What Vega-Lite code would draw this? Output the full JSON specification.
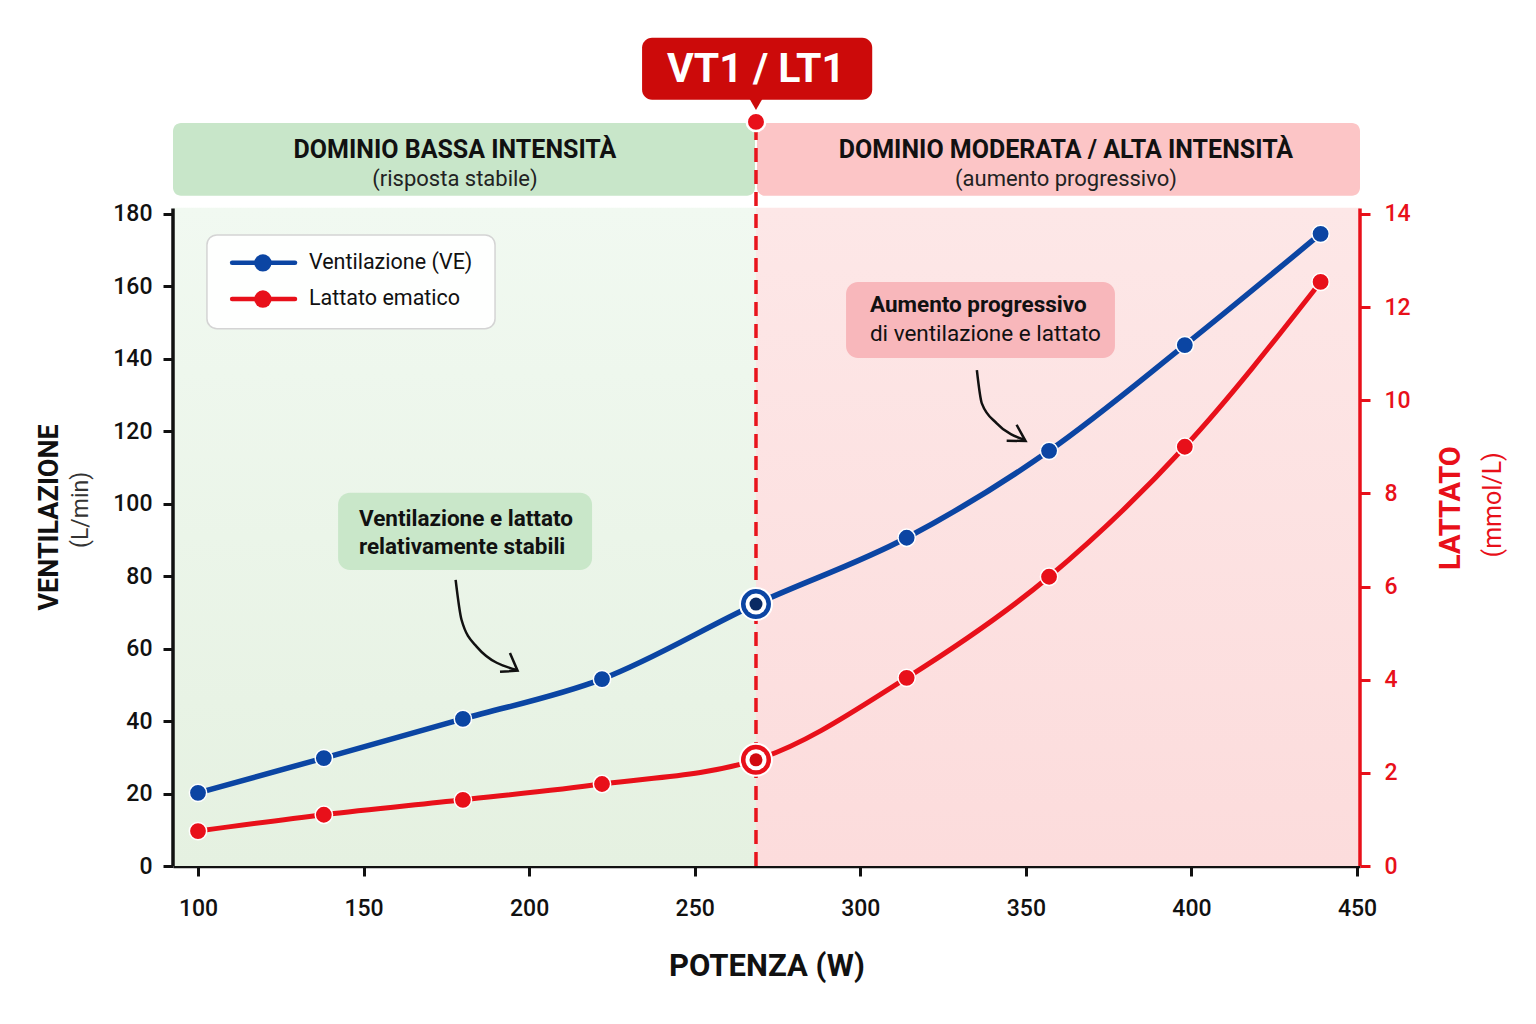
{
  "$schema": "https://vega.github.io/schema/vega-lite/v6.json",
  "width": 1187,
  "height": 826,
  "autosize": "none",
  "padding": {"left": 173, "top": 40, "right": 176, "bottom": 158},
  "background": "white",
  "config": {"font": "Roboto", "view": {"stroke": null}},
  "datasets": {
    "pts": [
      {"W": 100, "V": 20.2, "LA": 0.75},
      {"W": 138, "V": 29.8, "LA": 1.1},
      {"W": 180, "V": 40.6, "LA": 1.42},
      {"W": 222, "V": 51.6, "LA": 1.76},
      {"W": 268.5, "V": 72.3, "LA": 2.28},
      {"W": 314, "V": 90.6, "LA": 4.04},
      {"W": 357, "V": 114.6, "LA": 6.21},
      {"W": 398, "V": 143.8, "LA": 9.0},
      {"W": 439, "V": 174.5, "LA": 12.54}
    ]
  },
  "encoding": {
    "x": {
      "field": "W", "type": "quantitative",
      "scale": {"domain": [92.45, 450.9], "nice": false, "zero": false},
      "axis": {
        "values": [100, 150, 200, 250, 300, 350, 400, 450],
        "domain": true, "domainColor": "#111", "domainWidth": 3.5,
        "ticks": true, "tickSize": 10, "tickWidth": 3, "tickColor": "#111",
        "grid": false,
        "labelFontSize": 23, "labelFontWeight": 500, "labelColor": "#111", "labelPadding": 21,
        "title": "POTENZA (W)", "titleFontSize": 31, "titleFontWeight": "bold", "titleColor": "#111", "titlePadding": 31
      }
    }
  },
  "layer": [
    {
      "encoding": {
        "y": {
          "field": "V", "type": "quantitative",
          "scale": {"domain": [0, 228], "nice": false},
          "axis": {
            "values": [0, 20, 40, 60, 80, 100, 120, 140, 160, 180],
            "domain": false, "grid": false,
            "ticks": true, "tickSize": 10, "tickWidth": 3, "tickColor": "#111",
            "labelFontSize": 23, "labelFontWeight": 500, "labelColor": "#111", "labelPadding": 11,
            "title": null
          }
        }
      },
      "resolve": {"scale": {"color": "independent"}},
      "layer": [
        {
          "data": {"values": [{"W": 92.45, "W2": 268.5, "V": 0, "V2": 181.7}]},
          "mark": {"type": "rect", "color": {"gradient": "linear", "x1": 0, "y1": 0, "x2": 0, "y2": 1, "stops": [{"offset": 0, "color": "#f1f9f1"}, {"offset": 1, "color": "#e5f1e1"}]}},
          "encoding": {"x2": {"field": "W2"}, "y2": {"field": "V2"}}
        },
        {
          "data": {"values": [{"W": 268.5, "W2": 450.9, "V": 0, "V2": 181.7}]},
          "mark": {"type": "rect", "color": {"gradient": "linear", "x1": 0, "y1": 0, "x2": 0, "y2": 1, "stops": [{"offset": 0, "color": "#fde7e7"}, {"offset": 1, "color": "#fcdcdc"}]}},
          "encoding": {"x2": {"field": "W2"}, "y2": {"field": "V2"}}
        },
        {
          "data": {"values": [
            {"W": 92.45, "W2": 268.2, "V": 185, "V2": 205.1, "zona": "bassa"},
            {"W": 268.8, "W2": 450.9, "V": 185, "V2": 205.1, "zona": "alta"}
          ]},
          "mark": {"type": "rect", "cornerRadius": 8},
          "encoding": {
            "x2": {"field": "W2"}, "y2": {"field": "V2"},
            "color": {"field": "zona", "type": "nominal", "scale": {"domain": ["bassa", "alta"], "range": ["#c8e6c9", "#fcc5c6"]}, "legend": null}
          }
        },
        {
          "data": {"values": [
            {"W": 177.6, "V": 197.7, "testo": "DOMINIO BASSA INTENSITÀ"},
            {"W": 362.1, "V": 197.7, "testo": "DOMINIO MODERATA / ALTA INTENSITÀ"}
          ]},
          "mark": {"type": "text", "fontSize": 25, "fontWeight": "bold", "color": "#111", "baseline": "middle"},
          "encoding": {"text": {"field": "testo"}}
        },
        {
          "data": {"values": [
            {"W": 177.6, "V": 189.7, "testo": "(risposta stabile)"},
            {"W": 362.1, "V": 189.7, "testo": "(aumento progressivo)"}
          ]},
          "mark": {"type": "text", "fontSize": 22, "color": "#222", "baseline": "middle"},
          "encoding": {"text": {"field": "testo"}}
        },
        {
          "data": {"values": [
            {"W": 142.3, "W2": 219.0, "V": 81.7, "V2": 103.0, "zona": "bassa"},
            {"W": 295.7, "W2": 376.9, "V": 140.2, "V2": 161.2, "zona": "alta"}
          ]},
          "mark": {"type": "rect", "cornerRadius": 12},
          "encoding": {
            "x2": {"field": "W2"}, "y2": {"field": "V2"},
            "color": {"field": "zona", "type": "nominal", "scale": {"domain": ["bassa", "alta"], "range": ["#c9e7c9", "#f8b7bb"]}, "legend": null}
          }
        },
        {
          "data": {"values": [
            {"W": 148.6, "V": 95.8, "testo": "Ventilazione e lattato"},
            {"W": 148.6, "V": 88.1, "testo": "relativamente stabili"},
            {"W": 302.9, "V": 154.9, "testo": "Aumento progressivo"}
          ]},
          "mark": {"type": "text", "fontSize": 22.5, "fontWeight": "bold", "color": "#111", "align": "left", "baseline": "middle"},
          "encoding": {"text": {"field": "testo"}}
        },
        {
          "data": {"values": [{"W": 302.9, "V": 146.9, "testo": "di ventilazione e lattato"}]},
          "mark": {"type": "text", "fontSize": 22.5, "color": "#111", "align": "left", "baseline": "middle"},
          "encoding": {"text": {"field": "testo"}}
        },
        {
          "data": {"values": [
            {"f": 1, "k": 1, "W": 177.8, "V": 79.0},
            {"f": 1, "k": 2, "W": 179.6, "V": 67.9},
            {"f": 1, "k": 3, "W": 184.2, "V": 60.5},
            {"f": 1, "k": 4, "W": 196.2, "V": 54.1},
            {"f": 2, "k": 1, "W": 335.2, "V": 136.9},
            {"f": 2, "k": 2, "W": 336.7, "V": 127.7},
            {"f": 2, "k": 3, "W": 341.2, "V": 122.2},
            {"f": 2, "k": 4, "W": 349.7, "V": 117.6}
          ]},
          "mark": {"type": "line", "interpolate": "monotone", "strokeWidth": 2.5, "color": "#111"},
          "encoding": {"detail": {"field": "f"}, "order": {"field": "k"}}
        },
        {
          "data": {"values": [
            {"f": 1, "k": 1, "W": 194.2, "V": 58.8},
            {"f": 1, "k": 2, "W": 196.5, "V": 53.9},
            {"f": 1, "k": 3, "W": 191.2, "V": 53.6},
            {"f": 2, "k": 1, "W": 347.2, "V": 121.8},
            {"f": 2, "k": 2, "W": 349.9, "V": 117.3},
            {"f": 2, "k": 3, "W": 344.2, "V": 117.4}
          ]},
          "mark": {"type": "line", "strokeWidth": 2.5, "color": "#111", "strokeJoin": "miter"},
          "encoding": {"detail": {"field": "f"}, "order": {"field": "k"}}
        },
        {
          "data": {"values": [{"W": 102.7, "W2": 189.7, "V": 148.3, "V2": 174.2}]},
          "mark": {"type": "rect", "cornerRadius": 10, "fill": "white", "fillOpacity": 0.92, "stroke": "#d4d4d4", "strokeWidth": 1.5},
          "encoding": {"x2": {"field": "W2"}, "y2": {"field": "V2"}}
        },
        {
          "data": {"values": [
            {"W": 110.3, "W2": 129.3, "V": 166.5, "serie": "Ventilazione (VE)"},
            {"W": 110.3, "W2": 129.3, "V": 156.5, "serie": "Lattato ematico"}
          ]},
          "mark": {"type": "rule", "strokeWidth": 4.5, "strokeCap": "round"},
          "encoding": {
            "x2": {"field": "W2"},
            "color": {"field": "serie", "type": "nominal", "scale": {"domain": ["Ventilazione (VE)", "Lattato ematico"], "range": ["#0b45a3", "#e8101a"]}, "legend": null}
          }
        },
        {
          "data": {"values": [
            {"W": 119.6, "V": 166.5, "serie": "Ventilazione (VE)"},
            {"W": 119.6, "V": 156.5, "serie": "Lattato ematico"}
          ]},
          "mark": {"type": "circle", "size": 300, "opacity": 1},
          "encoding": {
            "color": {"field": "serie", "type": "nominal", "scale": {"domain": ["Ventilazione (VE)", "Lattato ematico"], "range": ["#0b45a3", "#e8101a"]}, "legend": null}
          }
        },
        {
          "data": {"values": [
            {"W": 133.5, "V": 166.5, "serie": "Ventilazione (VE)"},
            {"W": 133.5, "V": 156.5, "serie": "Lattato ematico"}
          ]},
          "mark": {"type": "text", "fontSize": 21.5, "color": "#111", "align": "left", "baseline": "middle"},
          "encoding": {"text": {"field": "serie"}}
        },
        {
          "data": {"values": [{"W": 55.2, "V": 96.2, "testo": "VENTILAZIONE"}]},
          "mark": {"type": "text", "fontSize": 27, "fontWeight": "bold", "color": "#111", "angle": 270, "baseline": "middle"},
          "encoding": {"text": {"field": "testo"}}
        },
        {
          "data": {"values": [{"W": 64.7, "V": 98.3, "testo": "(L/min)"}]},
          "mark": {"type": "text", "fontSize": 23, "color": "#333", "angle": 270, "baseline": "middle"},
          "encoding": {"text": {"field": "testo"}}
        },
        {
          "data": {"values": [{"W": 478.4, "V": 98.8, "testo": "LATTATO"}]},
          "mark": {"type": "text", "fontSize": 29, "fontWeight": "bold", "color": "#e8101a", "angle": 270, "baseline": "middle"},
          "encoding": {"text": {"field": "testo"}}
        },
        {
          "data": {"values": [{"W": 491.1, "V": 99.7, "testo": "(mmol/L)"}]},
          "mark": {"type": "text", "fontSize": 25, "color": "#e8101a", "angle": 270, "baseline": "middle"},
          "encoding": {"text": {"field": "testo"}}
        },
        {
          "data": {"values": [{"W": 234.1, "W2": 303.6, "V": 211.5, "V2": 228.6}]},
          "mark": {"type": "rect", "cornerRadius": 10, "color": "#cc0a0a"},
          "encoding": {"x2": {"field": "W2"}, "y2": {"field": "V2"}}
        },
        {
          "data": {"values": [{"W": 268.5, "V": 210.2}]},
          "mark": {"type": "point", "shape": "triangle-down", "filled": true, "size": 160, "color": "#cc0a0a", "opacity": 1},
          "encoding": {}
        },
        {
          "data": {"values": [{"W": 268.5, "V": 219.8, "testo": "VT1 / LT1"}]},
          "mark": {"type": "text", "fontSize": 41, "fontWeight": "bold", "color": "white", "baseline": "middle"},
          "encoding": {"text": {"field": "testo"}}
        },
        {
          "data": {"values": [{"W": 268.5, "V": 0, "V2": 205.4}]},
          "mark": {"type": "rule", "strokeWidth": 3.5, "strokeDash": [14, 8], "color": "#e8141c"},
          "encoding": {"y2": {"field": "V2"}}
        },
        {
          "data": {"values": [{"W": 268.5, "V": 205.4}]},
          "mark": {"type": "circle", "size": 340, "color": "#e8101a", "opacity": 1, "stroke": "white", "strokeWidth": 2.5},
          "encoding": {}
        },
        {
          "data": {"values": [{"W": 92.45, "V": 0, "V2": 181.5}]},
          "mark": {"type": "rule", "strokeWidth": 3.5, "color": "#111"},
          "encoding": {"y2": {"field": "V2"}}
        },
        {
          "data": {"values": [{"W": 450.9, "V": 0, "V2": 181.5}]},
          "mark": {"type": "rule", "strokeWidth": 3.5, "color": "#e8101a"},
          "encoding": {"y2": {"field": "V2"}}
        },
        {
          "data": {"name": "pts"},
          "mark": {"type": "line", "interpolate": "monotone", "strokeWidth": 5.5, "color": "#0b45a3"},
          "encoding": {}
        },
        {
          "data": {"name": "pts"},
          "mark": {"type": "circle", "size": 300, "color": "#0b45a3", "opacity": 1, "stroke": "white", "strokeWidth": 1.5},
          "encoding": {}
        },
        {
          "data": {"values": [{"W": 268.5, "V": 72.3}]},
          "mark": {"type": "circle", "size": 1024, "color": "#0b45a3", "opacity": 1, "stroke": "white", "strokeWidth": 2},
          "encoding": {}
        },
        {
          "data": {"values": [{"W": 268.5, "V": 72.3}]},
          "mark": {"type": "circle", "size": 441, "color": "white", "opacity": 1},
          "encoding": {}
        },
        {
          "data": {"values": [{"W": 268.5, "V": 72.3}]},
          "mark": {"type": "circle", "size": 169, "color": "#0a2a63", "opacity": 1},
          "encoding": {}
        }
      ]
    },
    {
      "encoding": {
        "y": {
          "field": "LA", "type": "quantitative",
          "scale": {"domain": [0, 17.733], "nice": false},
          "axis": {
            "orient": "right",
            "values": [0, 2, 4, 6, 8, 10, 12, 14],
            "domain": false, "grid": false,
            "ticks": true, "tickSize": 10, "tickWidth": 3, "tickColor": "#e8101a",
            "labelFontSize": 23, "labelFontWeight": 500, "labelColor": "#e8101a", "labelPadding": 14,
            "title": null
          }
        }
      },
      "layer": [
        {
          "data": {"name": "pts"},
          "mark": {"type": "line", "interpolate": "monotone", "strokeWidth": 5, "color": "#e8101a"},
          "encoding": {}
        },
        {
          "data": {"name": "pts"},
          "mark": {"type": "circle", "size": 300, "color": "#e8101a", "opacity": 1, "stroke": "white", "strokeWidth": 1.5},
          "encoding": {}
        },
        {
          "data": {"values": [{"W": 268.5, "LA": 2.28}]},
          "mark": {"type": "circle", "size": 1024, "color": "#e8101a", "opacity": 1, "stroke": "white", "strokeWidth": 2},
          "encoding": {}
        },
        {
          "data": {"values": [{"W": 268.5, "LA": 2.28}]},
          "mark": {"type": "circle", "size": 441, "color": "white", "opacity": 1},
          "encoding": {}
        },
        {
          "data": {"values": [{"W": 268.5, "LA": 2.28}]},
          "mark": {"type": "circle", "size": 169, "color": "#d10a10", "opacity": 1},
          "encoding": {}
        }
      ]
    }
  ],
  "resolve": {"scale": {"y": "independent"}}
}
